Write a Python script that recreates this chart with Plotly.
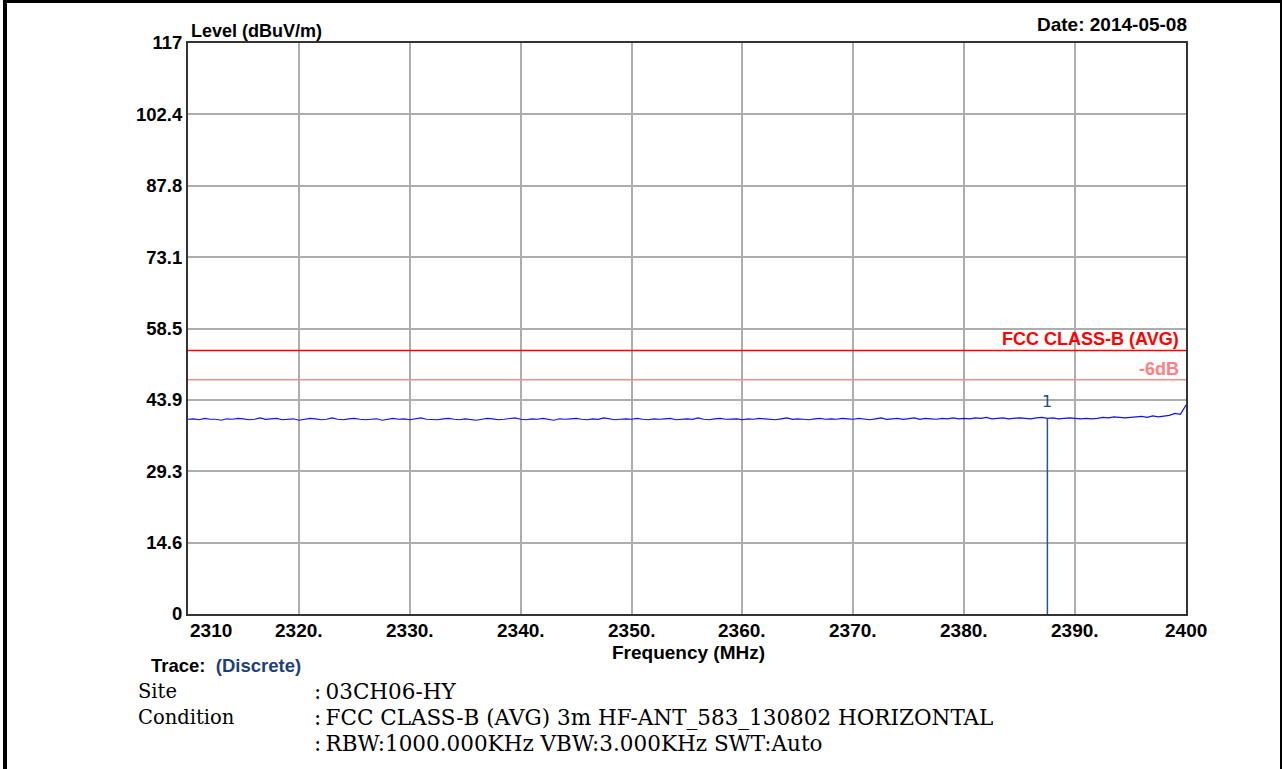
import plotly.graph_objects as go

# ---------------- data ----------------
freq_start = 2310.0
freq_step = 0.5
level = [
    39.9, 40.0, 39.8, 40.1, 39.9, 39.9, 39.7, 40.0, 39.9, 40.1,
    40.0, 39.8, 39.9, 40.2, 39.9, 40.0, 40.1, 39.8, 39.9, 40.0,
    39.7, 39.9, 40.1, 40.0, 39.8, 39.9, 40.2, 39.9, 39.8, 40.0,
    40.1, 39.9, 39.8, 39.9, 40.0, 39.7, 39.9, 40.1, 39.9, 40.0,
    39.8, 40.0, 40.2, 39.9, 39.9, 39.8, 40.0, 40.1, 39.9, 39.8,
    40.0, 39.9, 39.7, 39.9, 40.1, 40.0, 39.8, 39.9, 40.0, 40.2,
    39.9, 39.8, 40.0, 39.9, 40.1, 39.9, 39.7, 40.0, 39.9, 40.0,
    40.1, 39.9, 39.8, 40.0, 39.9, 40.2, 40.0, 39.8, 39.9, 40.0,
    39.9, 40.1, 39.9, 39.8, 40.0, 39.9, 40.0, 40.1, 39.8, 39.9,
    40.0, 39.9, 40.2, 39.9, 39.8, 40.0, 40.1, 39.9, 39.9, 40.0,
    39.8, 40.0, 39.9, 40.1, 40.0, 39.9, 39.8, 40.0, 40.2, 39.9,
    40.0, 39.9, 39.8, 40.0, 40.1, 39.9, 40.0, 39.9, 40.1, 40.0,
    39.9, 40.1, 40.0, 39.8, 40.0, 40.2, 39.9, 40.0, 40.1, 39.9,
    40.0, 40.2, 39.9, 40.1, 40.0, 39.9, 40.1, 40.0, 40.2, 40.0,
    40.1, 40.0, 40.2, 40.1, 40.3, 40.0, 40.1, 40.2, 40.0, 40.1,
    40.2, 40.1, 40.0, 40.2, 40.3, 40.1, 40.2, 40.0, 40.1, 40.2,
    40.1, 40.0, 40.1, 40.0, 40.1, 40.3, 40.2, 40.4, 40.3, 40.2,
    40.3, 40.4, 40.5, 40.3, 40.6, 40.4, 40.5, 40.7, 41.1, 40.9,
    42.8,
]
freq = [freq_start + i * freq_step for i in range(len(level))]

limit_name = "FCC CLASS-B (AVG)"
limit_level = 54.0
margin_name = "-6dB"
margin_level = 48.0

marker_label = "1"
marker_freq = 2387.5
marker_level = 40.1

y_tick_vals = [0, 14.625, 29.25, 43.875, 58.5, 73.125, 87.75, 102.375, 117]
y_tick_text = ["0", "14.6", "29.3", "43.9", "58.5", "73.1", "87.8", "102.4", "117"]
x_tick_vals = [2310, 2320, 2330, 2340, 2350, 2360, 2370, 2380, 2390, 2400]
x_tick_text = ["2310", "2320.", "2330.", "2340.", "2350.", "2360.", "2370.", "2380.", "2390.", "2400"]

info_keys = ["Site", "Condition", ""]
info_vals = [":\u200903CH06-HY",
             ":\u2009FCC CLASS-B (AVG) 3m HF-ANT_583_130802 HORIZONTAL",
             ":\u2009RBW:1000.000KHz VBW:3.000KHz SWT:Auto"]

# ---------------- layout geometry ----------------
W_FIG, H_FIG = 1282, 769
L, R, T, B = 188, 1186, 43, 614
PW, PH = R - L, B - T


def px(X):
    return (X - L) / PW


def py(Y):
    return (B - Y) / PH


SANS = "Liberation Sans, Arial, sans-serif"
SERIF = "DejaVu Serif, serif"

fig = go.Figure()

fig.add_trace(go.Scatter(x=freq, y=level, mode="lines",
                         line=dict(color="#1010ff", width=1.2),
                         showlegend=False, hoverinfo="skip"))

# marker vertical line
fig.add_trace(go.Scatter(x=[marker_freq, marker_freq], y=[0, marker_level], mode="lines",
                         line=dict(color="#23588f", width=1.5),
                         showlegend=False, hoverinfo="skip"))

shapes = []
# limit lines
shapes.append(dict(type="line", xref="paper", yref="y", x0=0, x1=1,
                   y0=limit_level, y1=limit_level, line=dict(color="#ff0000", width=1.5)))
shapes.append(dict(type="line", xref="paper", yref="y", x0=0, x1=1,
                   y0=margin_level, y1=margin_level, line=dict(color="#ff8c8c", width=1.5)))
# outer frame
shapes.append(dict(type="rect", xref="paper", yref="paper", x0=px(3), x1=px(7), y0=py(769), y1=py(0),
                   fillcolor="black", line=dict(width=0), layer="above"))
shapes.append(dict(type="rect", xref="paper", yref="paper", x0=px(3), x1=px(1282), y0=py(3), y1=py(0),
                   fillcolor="black", line=dict(width=0), layer="above"))
shapes.append(dict(type="rect", xref="paper", yref="paper", x0=px(1280), x1=px(1282), y0=py(769), y1=py(0),
                   fillcolor="black", line=dict(width=0), layer="above"))

annotations = []
annotations.append(dict(text="<b>" + limit_name + "</b>", x=px(1181), xref="paper", xanchor="right",
                        y=limit_level, yref="y", yanchor="bottom", yshift=-1, showarrow=False,
                        font=dict(family=SANS, size=18, color="#ff0000")))
annotations.append(dict(text="<b>" + margin_name + "</b>", x=px(1181), xref="paper", xanchor="right",
                        y=margin_level, yref="y", yanchor="bottom", yshift=-1, showarrow=False,
                        font=dict(family=SANS, size=18, color="#ff8080")))
annotations.append(dict(text=marker_label, x=marker_freq, xref="x", xanchor="center",
                        y=marker_level, yref="y", yanchor="bottom", yshift=5, showarrow=False,
                        font=dict(family="DejaVu Sans, sans-serif", size=16, color="#1f4f88")))

# x tick labels
for v, t in zip(x_tick_vals, x_tick_text):
    anchor = "left" if v == x_tick_vals[0] else "center"
    annotations.append(dict(text="<b>" + t + "</b>", x=v, xref="x", xanchor=anchor,
                            y=py(618), yref="paper", yanchor="top", showarrow=False,
                            font=dict(family=SANS, size=19, color="black")))

annotations.append(dict(text="<b>Frequency (MHz)</b>", x=px(688), xref="paper", xanchor="center",
                        y=py(640), yref="paper", yanchor="top", showarrow=False,
                        font=dict(family=SANS, size=19, color="black")))
annotations.append(dict(text="<b>Level (dBuV/m)</b>", x=px(189), xref="paper", xanchor="left",
                        y=py(43), yref="paper", yanchor="bottom", showarrow=False,
                        font=dict(family=SANS, size=18, color="black")))
annotations.append(dict(text="<b>Date: 2014-05-08</b>", x=px(1189), xref="paper", xanchor="right",
                        y=py(37), yref="paper", yanchor="bottom", showarrow=False,
                        font=dict(family=SANS, size=19, color="black")))
annotations.append(dict(text="<b>Trace:  <span style='color:#1f3f7a'>(Discrete)</span></b>",
                        x=px(149), xref="paper", xanchor="left",
                        y=py(665), yref="paper", yanchor="middle", showarrow=False,
                        font=dict(family=SANS, size=18.5, color="black")))
for i, (k, v) in enumerate(zip(info_keys, info_vals)):
    yc = 691 + 26 * i
    if k:
        annotations.append(dict(text=k, x=px(136), xref="paper", xanchor="left",
                                y=py(yc), yref="paper", yanchor="middle", showarrow=False,
                                font=dict(family=SERIF, size=19.5, color="black")))
    annotations.append(dict(text=v, x=px(312), xref="paper", xanchor="left",
                            y=py(yc), yref="paper", yanchor="middle", showarrow=False,
                            font=dict(family=SERIF, size=21.5, color="black")))

fig.update_layout(
    width=W_FIG, height=H_FIG,
    margin=dict(l=L, r=W_FIG - R, t=T, b=H_FIG - B, pad=0),
    paper_bgcolor="white", plot_bgcolor="white",
    shapes=shapes, annotations=annotations,
    xaxis=dict(range=[2310, 2400], tickvals=x_tick_vals, showticklabels=False, ticks="",
               showgrid=True, gridcolor="#adadad", gridwidth=1.5,
               showline=True, linecolor="#333333", linewidth=2, mirror=True, zeroline=False),
    yaxis=dict(range=[0, 117], tickvals=y_tick_vals, ticktext=["<b>" + t + "</b>" for t in y_tick_text],
               ticks="", ticklabelstandoff=0,
               tickfont=dict(family=SANS, size=18.5, color="black"),
               showgrid=True, gridcolor="#adadad", gridwidth=1.5,
               showline=True, linecolor="#333333", linewidth=2, mirror=True, zeroline=False),
)

fig.write_html("out.html")
